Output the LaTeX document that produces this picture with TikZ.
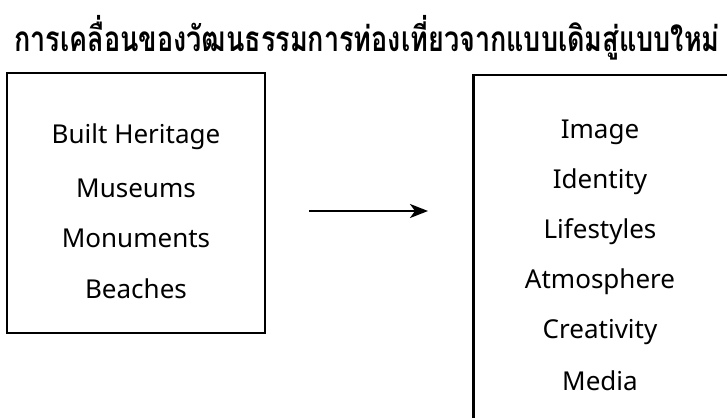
\documentclass[tikz,border=0pt]{standalone}
\usepackage{fontspec}
\setmainfont{Noto Sans}
\newfontfamily\thaifont[Script=Thai]{Loma}
\usetikzlibrary{arrows.meta}
\tikzset{
  boxstyle/.style={draw=black, line width=2.5pt, inner sep=0pt},
  item/.style={font=\fontsize{26}{30}\selectfont, anchor=center, inner sep=0pt},
  arr/.style={line width=2.5pt, -{Stealth[length=18pt,width=14pt,inset=5pt]}}
}
\begin{document}
\begin{tikzpicture}[x=1pt,y=-1pt]
\useasboundingbox (0,0) rectangle (727,417);
\clip (0,0) rectangle (727,417);
\node[font=\thaifont\bfseries\fontsize{27}{30}\selectfont, inner sep=0pt, yscale=1.3] (title) at (367,38) {การเคลื่อนของวัฒนธรรมการท่องเที่ยวจากแบบเดิมสู่แบบใหม่};
\node[boxstyle, minimum width=258pt, minimum height=260pt] (left) at (136,203) {};
\node[boxstyle, minimum width=300pt, minimum height=400pt, anchor=north west] (right) at (472,74) {};
\node[item] (l1) at (136,137) {Built Heritage};
\node[item] (l2) at (136,188) {Museums};
\node[item] (l3) at (136,238) {Monuments};
\node[item] (l4) at (136,289) {Beaches};
\node[item] (r1) at (600,132) {Image};
\node[item] (r2) at (600,182) {Identity};
\node[item] (r3) at (600,232) {Lifestyles};
\node[item] (r4) at (600,282) {Atmosphere};
\node[item] (r5) at (600,332) {Creativity};
\node[item] (r6) at (600,381) {Media};
\coordinate (a) at (309,211);
\coordinate (b) at (428,211);
\draw[arr] (a) -- (b);
\end{tikzpicture}
\end{document}
